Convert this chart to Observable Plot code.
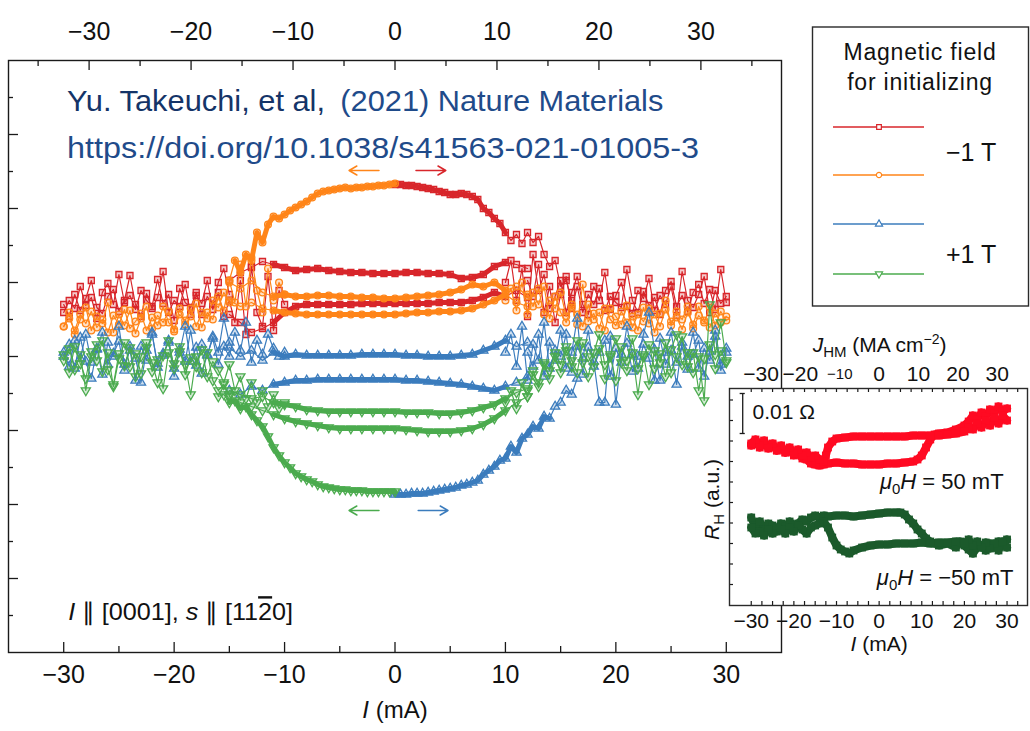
<!DOCTYPE html>
<html>
<head>
<meta charset="utf-8">
<script src="https://cdn.jsdelivr.net/npm/d3@7"></script>
<script src="https://cdn.jsdelivr.net/npm/@observablehq/plot@0.6"></script>
<style>
  html, body { margin: 0; padding: 0; background: #fff; }
  #chart { position: relative; width: 1030px; height: 731px; overflow: hidden; background: #fff; }
  #chart > svg { position: absolute; left: 0; top: 0; max-width: none !important; }
</style>
</head>
<body>
<div id="chart"></div>
<script>
// ================= DATA (main panel: I in mA, R_H in arbitrary units) =================
const ticksI = [-30, -20, -10, 0, 10, 20, 30];
const minorTicksI = [-25, -15, -5, 5, 15, 25];
const ticksJ = [-30, -20, -10, 0, 10, 20, 30];
const minorTicksJ = [-35, -25, -15, -5, 5, 15, 25, 35];
const J_PER_mA = 1.083; // J_HM (MA cm^-2) per mA
const majorTicksR = [74, 148, 222, 296, 370, 444, 518];
const minorTicksR = [37, 111, 185, 259, 333, 407, 481, 555];

// red (-1 T, sweep 0 -> +)
const redCurveI = [0,0.5,1,1.5,2,2.5,3,3.5,4,4.5,5,5.5,6,6.5,7,7.5,8,8.5,9,9.5,10,10.5,11,11.5,12,12.5,13,13.5,14,14.5,15,15.5,16];
const redCurveR = [468,468,467,467,466,465,464,463,461,460,458,458,459,458,456,453,444,440,434,429,420,412,418,409,420,410,416,398,386,392,366,372,352];
// orange (-1 T, sweep 0 -> -)
const orangeCurveI = [0,-0.5,-1,-1.5,-2,-2.5,-3,-3.5,-4,-4.5,-5,-5.5,-6,-6.5,-7,-7.5,-8,-8.5,-9,-9.5,-10,-10.5,-11,-11.5,-12,-12.5,-13,-13.5,-14,-14.5,-15];
const orangeCurveR = [469,468,467,467,466,466,465,465,464,465,464,463,462,461,459,455,451,448,445,442,438,434,436,428,410,420,392,398,380,392,372];
// blue (+1 T, sweep 0 -> +)
const blueCurveI = [0,0.5,1,1.5,2,2.5,3,3.5,4,4.5,5,5.5,6,6.5,7,7.5,8,8.5,9,9.5,10,10.5,11,11.5,12,12.5,13,13.5,14,14.5,15,15.5,16,16.5];
const blueCurveR = [158,158,158,159,159,159,160,161,162,163,164,165,167,168,170,172,178,182,186,192,194,206,200,214,218,226,224,236,234,246,250,262,258,274];
// green (+1 T, sweep 0 -> -)
const greenCurveI = [0,-0.5,-1,-1.5,-2,-2.5,-3,-3.5,-4,-4.5,-5,-5.5,-6,-6.5,-7,-7.5,-8,-8.5,-9,-9.5,-10,-10.5,-11,-11.5,-12,-12.5,-13,-13.5,-14,-14.5,-15,-15.5,-16];
const greenCurveR = [161,161,161,161,161,161,162,162,162,163,163,164,165,166,168,171,173,176,179,185,190,197,205,216,226,232,238,246,244,252,250,258,256];

// return branches (flat parts)
const flatI = [-15,-14,-13,-12,-11,-10,-9,-8,-7,-6,-5,-4,-3,-2,-1,0,1,2,3,4,5,6,7,8,9,10,11,12];
const redFlatA = [372,380,385,391,388,385,382,383,384,382,381,380,380,379,379,379,380,380,379,379,378,374,375,378,386,390,388,384];
const redFlatB = [338,330,320,324,330,340,346,348,348,348,348,348,349,349,349,349,349,349,349,350,350,350,352,355,360,356,362,355];
const orangeFlatA = [370,364,372,360,356,358,356,356,357,357,356,356,355,355,354,354,355,356,357,358,360,363,368,366,370,362,366,356];
const orangeFlatB = [352,346,350,344,342,340,339,338,338,338,338,338,338,338,338,338,339,340,340,341,341,342,344,348,352,358,350,346];
const blueFlatA = [305,296,302,292,300,296,298,297,297,297,297,297,298,298,298,298,297,297,296,296,296,297,298,302,306,312,306,310];
const blueFlatB = [262,258,266,262,268,270,272,272,273,273,273,273,273,273,273,273,272,272,271,270,269,268,266,264,262,266,270,276];
const greenFlatA = [262,258,254,256,250,248,246,243,242,241,241,241,241,241,241,241,240,240,240,239,239,240,242,245,248,254,260,264];
const greenFlatB = [256,250,246,242,238,234,231,229,227,225,224,224,224,224,224,224,223,222,221,221,221,222,224,228,234,242,250,256];

// saturated (noisy) parts, first pass
const leftI = [-30,-29.5,-29,-28.5,-28,-27.5,-27,-26.5,-26,-25.5,-25,-24.5,-24,-23.5,-23,-22.5,-22,-21.5,-21,-20.5,-20,-19.5,-19,-18.5,-18,-17.5,-17,-16.5,-16,-15.5,-15];
const redLeft = [340,352,344,366,347,355,334,360,369,348,378,350,357,343,362,352,346,373,349,358,332,364,350,345,360,338,356,348,370,384,358];
const orangeLeft = [326,334,322,338,329,341,325,333,320,337,328,343,324,331,339,322,335,327,346,330,323,338,332,344,326,340,334,352,345,360,350];
const blueLeft = [300,286,312,294,318,290,304,278,310,296,326,288,302,272,306,292,320,285,299,310,276,303,291,322,287,308,297,316,300,334,310];
const greenLeft = [292,304,283,298,262,296,308,281,300,266,294,310,286,299,279,305,290,270,297,312,284,301,288,258,296,280,300,272,262,268,258];

const rightI = [12,12.5,13,13.5,14,14.5,15,15.5,16,16.5,17,17.5,18,18.5,19,19.5,20,20.5,21,21.5,22,22.5,23,23.5,24,24.5,25,25.5,26,26.5,27,27.5,28,28.5,29,29.5,30];
const redRight = [372,356,388,340,366,330,358,376,344,366,340,358,348,364,342,356,350,345,383,352,340,361,347,355,338,362,371,346,357,341,360,368,349,363,343,383,350];
const orangeRight = [358,346,364,338,352,344,360,336,348,328,368,331,339,324,344,333,327,341,330,336,322,345,329,338,326,343,331,335,323,340,328,346,332,325,339,330,336];
const blueRight = [300,286,318,276,310,292,322,284,300,334,278,305,291,250,250,316,248,298,309,281,296,318,340,303,272,300,320,290,306,283,298,312,276,301,322,288,304];
const greenRight = [262,278,270,290,282,300,288,306,292,280,310,296,286,304,274,298,314,290,282,300,258,296,308,284,299,276,303,318,288,300,280,296,252,348,298,330,292];

// saturated (noisy) parts, second pass
const leftI2 = [-30,-29.5,-29,-28.5,-28,-27.5,-27,-26.5,-26,-25.5,-25,-24.5,-24,-23.5,-23,-22.5,-22,-21.5,-21,-20.5,-20,-19.5,-19,-18.5,-18,-17.5,-17,-16.5,-16,-15.5,-15,-14.5,-14,-13.5,-13,-12.5,-12,-11.5,-11,-10.5,-10];
const redLeft2 = [348,336,358,342,354,372,345,339,356,363,341,352,377,348,336,359,344,355,381,340,352,346,368,338,357,349,372,343,360,336,352,330,372,318,386,340,326,376,322,362,348];
const orangeLeft2 = [326,340,318,333,345,322,336,329,350,320,338,327,342,319,334,346,324,337,330,341,321,344,328,336,349,325,340,333,356,342,372,350,388,346,395,362,340,384,352,370,358];
const blueLeft2 = [296,308,284,315,291,274,303,320,288,299,311,282,306,294,270,302,318,289,297,312,284,300,326,291,305,279,298,314,288,306,296,320,302,330,290,312,298,318,304,296,300];
const greenLeft2 = [298,280,306,289,274,301,292,312,283,268,299,287,305,276,296,310,281,293,264,300,289,306,278,295,286,303,276,291,282,270,288,262,276,254,270,250,262,246,258,244,250];

const rightI2 = [10,10.5,11,11.5,12,12.5,13,13.5,14,14.5,15,15.5,16,16.5,17,17.5,18,18.5,19,19.5,20,20.5,21,21.5,22,22.5,23,23.5,24,24.5,25,25.5,26,26.5,27,27.5,28,28.5,29,29.5,30];
const redRight2 = [370,392,352,384,336,398,362,378,344,356,372,340,360,376,348,338,366,352,380,343,357,370,346,339,362,354,374,342,357,348,366,337,381,352,345,358,376,340,362,349,356];
const orangeRight2 = [352,364,342,370,338,360,348,366,334,356,340,330,345,338,326,348,333,340,322,344,336,328,347,325,338,331,344,320,339,352,327,341,333,346,324,337,330,345,327,341,332];
const blueRight2 = [300,318,286,326,272,308,292,330,284,302,296,318,280,306,294,322,286,300,312,276,304,290,326,298,284,308,294,272,314,288,302,268,310,296,320,284,304,292,316,282,300];
const greenRight2 = [250,262,244,270,256,282,266,288,274,296,280,302,286,312,290,276,300,318,288,296,272,306,292,314,284,298,268,302,290,310,280,296,316,286,300,262,294,308,284,302,290];

// sweep-direction arrows
const arrowSeries = ["orange", "red", "blue", "green"];
const arrowI1 = [-1.45, 1.9, 2.1, -1.45];
const arrowI2 = [-4.16, 4.6, 4.8, -4.16];
const arrowR = [482, 482, 142, 142];

// legend
const legendTitle = ["Magnetic field", "for initializing"];
const legendSeries = ["red", "orange", "blue", "green"];
const legendFieldLabels = ["\u22121 T", "+1 T"];

// ================= DATA (inset: I in mA, R_H in a.u.) =================
const insetRedSweep1I = [-30,-29,-28,-27,-26,-25,-24,-23,-22,-21,-20,-19,-18,-17,-16,-15,-14,-13,-12,-10,-8,-6,-4,-2,0,2,4,6,8,9,10,11,12,13,14,16,18,20,21,22,23,24,25,26,27,28,29,30];
const insetRedSweep1R = [160,164,158,163,157,161,155,158,153,156,150,152,147,146,142,141,140,141,142,143,142,142,141,141,141,142,142,143,144,146,150,158,166,171,172,173,176,180,184,190,186,193,189,196,192,199,194,197];
const insetRedSweep2I = [30,29,28,27,26,25,24,23,22,21,20,18,16,14,12,10,8,6,4,2,0,-2,-4,-6,-8,-10,-11,-12,-12.5,-13,-14,-15,-16,-17,-18,-19,-20,-21,-22,-23,-24,-25,-26,-27,-28,-29,-30];
const insetRedSweep2R = [185,190,182,188,180,185,178,182,176,178,174,172,171,170,170,170,170,169,169,169,169,169,169,169,168,167,164,158,150,144,146,150,148,153,150,156,152,158,153,160,155,162,158,165,160,166,162];
const insetGreenSweep1I = [-30,-29,-28,-27,-26,-25,-24,-23,-22,-21,-20,-19,-18,-17,-16,-15,-14,-13,-12,-10,-8,-6,-4,-2,0,2,4,5,6,7,8,9,10,11,12,13,14,16,18,19,20,21,22,23,24,25,26,27,28,29,30];
const insetGreenSweep1R = [88,78,84,76,82,80,74,82,79,84,80,82,86,84,88,90,88,90,89,90,90,89,90,91,92,93,93,93,91,86,82,76,72,67,64,62,60,62,58,64,60,56,52,58,60,55,62,58,64,60,66];
const insetGreenSweep2I = [30,29,28,27,26,25,24,23,22,21,20,18,16,14,12,10,8,6,4,2,0,-2,-4,-6,-7,-8,-9,-10,-11,-12,-13,-14,-15,-16,-17,-18,-19,-20,-21,-22,-23,-24,-25,-26,-27,-28,-29,-30];
const insetGreenSweep2R = [58,64,55,62,57,63,58,64,60,66,62,64,63,63,62,63,62,62,62,61,61,60,58,55,52,54,56,60,68,78,84,82,80,78,72,76,80,74,78,72,76,78,72,76,70,74,72,78];
const insetFieldLabels = ["50 mT", "\u221250 mT"];
const insetScaleOhm = "0.01 \u03a9";

// ================= STYLE / LAYOUT =================
const FONT = '"Liberation Sans", Arial, Helvetica, sans-serif';
const NARROW = '"Liberation Sans Narrow", "Liberation Sans", Arial, sans-serif';
const fmt = d => (d < 0 ? "\u2212" + Math.abs(d) : String(d));
const colors = {red: "#d8262b", orange: "#ff8519", blue: "#3b7cbd", green: "#4bab4e"};
const triangleDown = {
  draw(context, size) {
    const y = Math.sqrt(size / (Math.sqrt(3) * 3));
    context.moveTo(0, y * 2);
    context.lineTo(-Math.sqrt(3) * y, -y);
    context.lineTo(Math.sqrt(3) * y, -y);
    context.closePath();
  }
};
const symbols = {red: "square", orange: "circle", blue: "triangle", green: triangleDown};
const d3symbols = {red: d3.symbolSquare, orange: d3.symbolCircle, blue: d3.symbolTriangle, green: triangleDown};
const pts = (I, R) => I.map((x, i) => ({I: x, R: R[i]}));

const mainSeries = [
  {name: "red", curve: pts(redCurveI, redCurveR), curveQuiet: 10, flats: [pts(flatI, redFlatA), pts(flatI, redFlatB)], noise: [pts(leftI, redLeft), pts(rightI, redRight), pts(leftI2, redLeft2), pts(rightI2, redRight2)]},
  {name: "orange", curve: pts(orangeCurveI, orangeCurveR), curveQuiet: 14.5, flats: [pts(flatI, orangeFlatA), pts(flatI, orangeFlatB)], noise: [pts(leftI, orangeLeft), pts(rightI, orangeRight), pts(leftI2, orangeLeft2), pts(rightI2, orangeRight2)]},
  {name: "blue", curve: pts(blueCurveI, blueCurveR), curveQuiet: 14, flats: [pts(flatI, blueFlatA), pts(flatI, blueFlatB)], noise: [pts(leftI, blueLeft), pts(rightI, blueRight), pts(leftI2, blueLeft2), pts(rightI2, blueRight2)]},
  {name: "green", curve: pts(greenCurveI, greenCurveR), curveQuiet: 15, flats: [pts(flatI, greenFlatA), pts(flatI, greenFlatB)], noise: [pts(leftI, greenLeft), pts(rightI, greenRight), pts(leftI2, greenLeft2), pts(rightI2, greenRight2)]}
];

// thick (dense-marker look) only where the branches are quiet
const flatQuiet = d => d.I >= -11.5 && d.I <= 10.5;
const seriesMarks = mainSeries.flatMap(s => {
  const c = colors[s.name];
  const all = [s.curve, ...s.flats, ...s.noise].flat();
  const thick = [s.curve.filter(d => Math.abs(d.I) <= s.curveQuiet), ...s.flats.map(f => f.filter(flatQuiet))];
  return [
    ...[...s.noise, s.curve, ...s.flats].map(d => Plot.line(d, {x: "I", y: "R", stroke: c, strokeWidth: 1.2})),
    ...thick.map(d => Plot.line(d, {x: "I", y: "R", stroke: c, strokeWidth: 5, strokeLinejoin: "round", strokeLinecap: "round"})),
    Plot.dot(all, {x: "I", y: "R", stroke: c, symbol: symbols[s.name], r: 3.4, strokeWidth: 1.3, fill: c, fillOpacity: 0.25})
  ];
});

const arrows = arrowSeries.map((name, i) => ({name, x1: arrowI1[i], x2: arrowI2[i], y: arrowR[i]}));
const arrowMarks = arrows.map(a => Plot.arrow([a], {x1: "x1", x2: "x2", y1: "y", y2: "y", stroke: colors[a.name], strokeWidth: 1.5, headLength: 9}));

const credit1a = "Yu. Takeuchi, et al,";
const credit1b = "(2021) Nature Materials";
const credit2 = "https://doi.org/10.1038/s41563-021-01005-3";
const orientationText = "I \u2225 [0001], s \u2225 [1120]";
const xLabel = "I (mA)";

const PXI = 773 / 70; // px per mA in main panel
const TK = "#1a1a1a";

const main = Plot.plot({
  width: 1030, height: 731,
  marginLeft: 8, marginRight: 249, marginTop: 60, marginBottom: 79,
  x: {domain: [-35, 35]},
  y: {domain: [0, 592], axis: null},
  style: {fontFamily: FONT, fontSize: "21px", color: "#111", background: "transparent", overflow: "visible"},
  marks: [
    ...seriesMarks,
    ...arrowMarks,
    Plot.ruleX(ticksI, {x: d => d, y1: 0, y2: 10, stroke: TK, strokeWidth: 1.3}),
    Plot.ruleX(minorTicksI, {x: d => d, y1: 0, y2: 6, stroke: TK, strokeWidth: 1.3}),
    Plot.ruleX(ticksJ, {x: d => d / J_PER_mA, y1: 592, y2: 582, stroke: TK, strokeWidth: 1.3}),
    Plot.ruleX(minorTicksJ, {x: d => d / J_PER_mA, y1: 592, y2: 586, stroke: TK, strokeWidth: 1.3}),
    Plot.ruleY(majorTicksR, {y: d => d, x1: -35, x2: -35 + 10 / PXI, stroke: TK, strokeWidth: 1.3}),
    Plot.ruleY(minorTicksR, {y: d => d, x1: -35, x2: -35 + 5 / PXI, stroke: TK, strokeWidth: 1.3}),
    Plot.axisX(ticksI, {anchor: "bottom", tickSize: 0, tickPadding: 13, tickFormat: fmt, label: null, fontSize: 25, fontFamily: NARROW}),
    Plot.axisX(ticksJ.map(j => j / J_PER_mA), {anchor: "top", tickSize: 0, tickPadding: 21, tickFormat: d => fmt(Math.round(d * J_PER_mA)), label: null, fontSize: 25, fontFamily: NARROW}),
    Plot.text([credit1a], {x: -29.7, y: 551, text: d => d, textAnchor: "start", fontSize: 30, fill: "#143468"}),
    Plot.text([credit1b], {x: -4.95, y: 551, text: d => d, textAnchor: "start", fontSize: 30, fill: "#1f4b8a"}),
    Plot.text([credit2], {x: -29.7, y: 504, text: d => d, textAnchor: "start", fontSize: 30, fill: "#1f4b8a"}),
    Plot.text([orientationText], {x: -29.6, y: 40, text: d => d, textAnchor: "start", fontSize: 24, fill: "#111"}),
    Plot.text([xLabel], {x: 0, frameAnchor: "bottom", dy: 65, text: d => d, fontSize: 24, fill: "#111", fontFamily: NARROW}),
    Plot.frame({stroke: TK, strokeWidth: 1.4})
  ]
});

// ---------- inset ----------
const insetCurves = [
  {color: "#ff0a22", sweeps: [pts(insetRedSweep1I, insetRedSweep1R), pts(insetRedSweep2I, insetRedSweep2R)]},
  {color: "#1b5a2b", sweeps: [pts(insetGreenSweep1I, insetGreenSweep1R), pts(insetGreenSweep2I, insetGreenSweep2R)]}
];
const PXI2 = 298 / 69.9;
const insetTicks = d3.range(-30, 33, 2.5);
const insetLeftTicks = d3.range(21, 215, 20.5);
const jLabel = "JHM (MA cm-2)";
const rLabel = "RH (a.u.)";

const inset = Plot.plot({
  width: 1030, height: 731,
  marginLeft: 729, marginRight: 3, marginTop: 388, marginBottom: 126,
  x: {domain: [-35.1, 34.8]},
  y: {domain: [0, 217], axis: null},
  style: {fontFamily: FONT, fontSize: "21px", color: "#111", background: "transparent", overflow: "visible"},
  marks: [
    Plot.frame({fill: "white", stroke: null}),
    ...insetCurves.flatMap(c => c.sweeps.flatMap(s => [
      Plot.line(s, {x: "I", y: "R", stroke: c.color, strokeWidth: 8, strokeLinejoin: "round", strokeLinecap: "round"}),
      Plot.dot(s, {x: "I", y: "R", fill: c.color, symbol: "square", r: 4.4})
    ])),
    Plot.ruleX(insetTicks, {x: d => d, y1: 0, y2: 4, stroke: TK, strokeWidth: 1.2}),
    Plot.ruleX(insetTicks, {x: d => d, y1: 217, y2: 213, stroke: TK, strokeWidth: 1.2}),
    Plot.ruleY(insetLeftTicks, {y: d => d, x1: -35.1, x2: -35.1 + 4 / PXI2, stroke: TK, strokeWidth: 1.2}),
    // 0.01 ohm scale bar
    Plot.ruleX([insetScaleOhm], {x: -32.0, y1: 172, y2: 212, stroke: TK, strokeWidth: 1.3}),
    Plot.ruleY([172, 212], {y: d => d, x1: -32.6, x2: -31.4, stroke: TK, strokeWidth: 1.3}),
    Plot.text([insetScaleOhm], {x: -29.7, y: 193, text: d => d, textAnchor: "start", fontSize: 21, fill: "#111"}),
    Plot.text([insetFieldLabels[0]], {x: 29.2, y: 124, text: d => "\u03bc0H = " + d, textAnchor: "end", fontSize: 22, fill: "#111"}),
    Plot.text([insetFieldLabels[1]], {x: 31.5, y: 28, text: d => "\u03bc0H = " + d, textAnchor: "end", fontSize: 22, fill: "#111"}),
    Plot.axisX(ticksI, {anchor: "bottom", tickSize: 0, tickPadding: 8, tickFormat: fmt, label: null, fontSize: 21}),
    Plot.text(ticksJ, {x: d => d / J_PER_mA, y: 231, text: fmt, fontSize: d => (d === -10 ? 15 : 21), fill: "#111"}),
    Plot.text([jLabel], {x: -15.6, y: 260, text: d => d, textAnchor: "start", fontSize: 21, fill: "#111"}),
    Plot.text([rLabel], {x: -39.1, y: 106, text: d => d, rotate: -90, fontSize: 21, fill: "#111"}),
    Plot.text([xLabel], {x: 0, y: -39, text: d => d, fontSize: 21, fill: "#111"}),
    Plot.frame({stroke: "#2a2a2a", strokeWidth: 1.4})
  ]
});

// ---------- legend ----------
const legend = d3.create("svg").attr("width", 1030).attr("height", 731)
  .style("font-family", FONT).style("overflow", "visible");
legend.append("rect").attr("x", 812.5).attr("y", 27).attr("width", 216).attr("height", 279)
  .attr("fill", "white").attr("stroke", "#2a2a2a").attr("stroke-width", 1.4);
legend.selectAll("text.title").data(legendTitle).join("text").attr("class", "title")
  .attr("x", 920).attr("y", (d, i) => 60 + i * 30).attr("text-anchor", "middle")
  .attr("font-size", 23).attr("letter-spacing", 0.8).attr("fill", "#111").text(d => d);
const legendY = [127, 175, 224, 274];
legendSeries.forEach((name, i) => {
  legend.append("line").attr("x1", 833).attr("x2", 924).attr("y1", legendY[i]).attr("y2", legendY[i])
    .attr("stroke", colors[name]).attr("stroke-width", 1.5);
  legend.append("path").attr("transform", `translate(879,${legendY[i]})`)
    .attr("d", d3.symbol(d3symbols[name], 22)())
    .attr("fill", "white").attr("stroke", colors[name]).attr("stroke-width", 1.2);
});
legend.selectAll("text.field").data(legendFieldLabels).join("text").attr("class", "field")
  .attr("x", 946).attr("y", (d, i) => [161, 263][i]).attr("font-size", 25).attr("fill", "#111").text(d => d);

// ---------- rich text fixes ----------
function rich(svg, content, html, len) {
  svg.querySelectorAll("text").forEach(t => {
    if (t.textContent === content) {
      if (html) t.innerHTML = html;
      if (len) { t.setAttribute("textLength", len); t.setAttribute("lengthAdjust", "spacingAndGlyphs"); }
    }
  });
}
rich(main, credit1a, null, 258);
rich(main, credit1b, null, 323);
rich(main, credit2, null, 632);
rich(main, orientationText, '<tspan font-style="italic">I</tspan> \u2225 [0001], <tspan font-style="italic">s</tspan> \u2225 [11<tspan style="text-decoration: overline">2</tspan>0]', 225);
rich(main, xLabel, '<tspan font-style="italic">I</tspan> (mA)');
rich(inset, xLabel, '<tspan font-style="italic">I</tspan> (mA)');
rich(inset, jLabel, '<tspan font-style="italic">J</tspan><tspan dy="5" font-size="15">HM</tspan><tspan dy="-5"> (MA cm</tspan><tspan dy="-8" font-size="14">\u22122</tspan><tspan dy="8">)</tspan>');
rich(inset, rLabel, '<tspan font-style="italic">R</tspan><tspan dy="5" font-size="15">H</tspan><tspan dy="-5"> (a.u.)</tspan>');
insetFieldLabels.forEach(l => rich(inset, "\u03bc0H = " + l,
  '<tspan font-style="italic">\u03bc</tspan><tspan dy="5" font-size="15">0</tspan><tspan dy="-5" font-style="italic">H</tspan> = ' + l));

const chart = document.getElementById("chart");
chart.appendChild(main);
chart.appendChild(legend.node());
chart.appendChild(inset);
</script>
</body>
</html>
